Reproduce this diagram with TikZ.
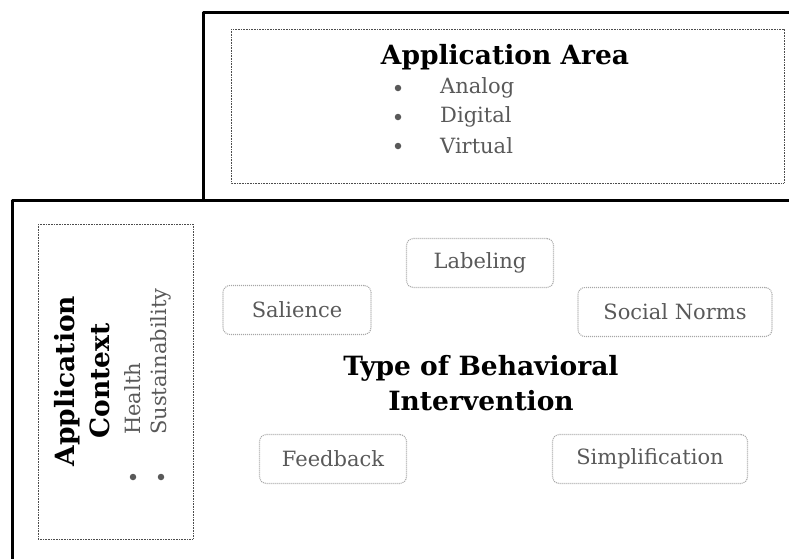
\documentclass[tikz,border=0pt]{standalone}
\usepackage{fontspec}
\setmainfont{DejaVu Serif}
\usetikzlibrary{positioning}
\definecolor{itemgray}{HTML}{595959}
\definecolor{dotgray}{HTML}{A6A6A6}
\tikzset{
  frame/.style={draw=black, line width=3pt},
  field/.style={draw=black!70, dash pattern=on 0.8pt off 0.8pt, line width=0.9pt},
  lever/.style={draw=dotgray, dash pattern=on 1pt off 1pt, line width=1.1pt, rounded corners=7pt,
    minimum height=49pt, text=itemgray, font=\fontsize{21}{24}\selectfont},
  headline/.style={font=\bfseries\fontsize{26.5}{35}\selectfont, align=center, inner sep=0pt},
  entry/.style={font=\fontsize{21}{24}\selectfont, text=itemgray, inner sep=0pt},
  dot/.style={circle, fill=itemgray, inner sep=0pt, minimum size=6.5pt},
}
\begin{document}
\begin{tikzpicture}[x=1pt, y=-1pt, line join=round]
  \useasboundingbox (0,0) rectangle (789,558);
  \clip (0,0) rectangle (789,558);
  % outer frames
  \draw[frame] (203,12) rectangle (820,200);
  \draw[frame] (12,200) rectangle (820,600);
  % application area
  \draw[field] (231,29) rectangle (784,183);
  \node[headline] (area) at (505,57) {Application Area};
  \foreach \y/\txt/\nm in {88/Analog/analog, 117/Digital/digital, 146/Virtual/virtual}{
    \node[dot] (\nm dot) at (398,\y) {};
    \node[entry, anchor=west] (\nm) at (440,\y) {\txt};
  }
  % application context, turned on its side
  \draw[field] (38,224) rectangle (193,539);
  \node[headline, rotate=90] (context) at (82,381) {Application\\Context};
  \foreach \x/\txt/\nm in {133/Health/health, 161/Sustainability/sustain}{
    \node[dot] (\nm dot) at (\x,477) {};
    \node[entry, rotate=90, anchor=west] (\nm) at (\x,435) {\txt};
  }
  % type of behavioral intervention
  \node[headline] (type) at (481,383) {Type of Behavioral\\Intervention};
  \node[lever, minimum width=147pt] (labeling) at (480,263) {Labeling};
  \node[lever, minimum width=148pt] (salience) at (297,310) {Salience};
  \node[lever, minimum width=194pt] (norms) at (675,312) {Social Norms};
  \node[lever, minimum width=195pt] (simple) at (650,459) {Simplification};
  \node[lever, minimum width=147pt] (feedback) at (333,459) {Feedback};
\end{tikzpicture}
\end{document}
